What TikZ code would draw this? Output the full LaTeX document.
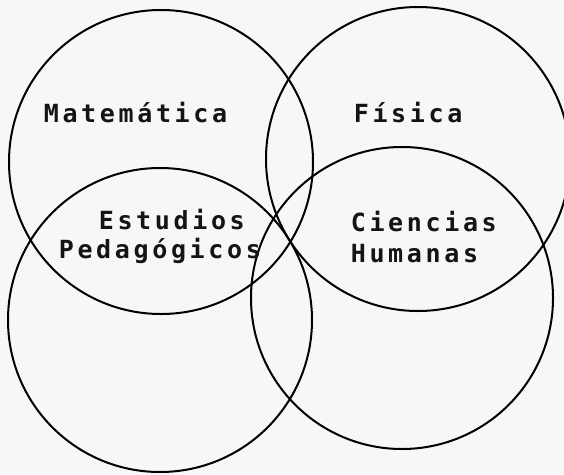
\documentclass[tikz,border=0pt]{standalone}
\usepackage{fontspec}
\newfontfamily\labelfont{DejaVu Sans Mono Bold}
\makeatletter
\newcommand\spacedword[1]{\@tfor\spc@c:=#1\do{\makebox[18.7pt][c]{\spc@c}}}
\makeatother
\tikzset{
  venn/.style={draw=black, line width=2pt},
  lbl/.style={anchor=base west, inner sep=0pt, outer sep=0pt, font=\labelfont\fontsize{25}{30}\selectfont, text=black!92},
}
\begin{document}
\begin{tikzpicture}[x=1pt,y=-1pt]
\fill[black!3] (0,0) rectangle (564,474);
\useasboundingbox (0,0) rectangle (564,474);
\begin{scope}
\clip (0,0) rectangle (564,474);
\node[venn, circle, minimum size=304pt, inner sep=0pt] (mat) at (161,162) {};
\node[venn, circle, minimum size=304pt, inner sep=0pt] (fis) at (418,159) {};
\node[venn, circle, minimum size=304pt, inner sep=0pt] (ped) at (160,320) {};
\node[venn, circle, minimum size=302pt, inner sep=0pt] (hum) at (402,298) {};
\end{scope}
\node[lbl] (tmat) at (42,122) {\spacedword{Matemática}};
\node[lbl] (tfis) at (352,122) {\spacedword{Física}};
\node[lbl] (test) at (97,229) {\spacedword{Estudios}};
\node[lbl] (tped) at (57,258) {\spacedword{Pedagógicos}};
\node[lbl] (tcie) at (349,231) {\spacedword{Ciencias}};
\node[lbl] (thum) at (349,262) {\spacedword{Humanas}};
\end{tikzpicture}
\end{document}
